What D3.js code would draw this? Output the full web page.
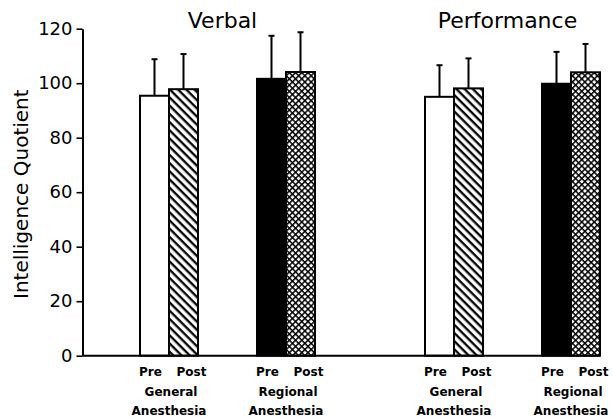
<!DOCTYPE html>
<html>
<head>
<meta charset="utf-8">
<script src="https://cdn.jsdelivr.net/npm/d3@7"></script>
<style>
  body { margin: 0; background: #fff; }
  svg { display: block; }
</style>
</head>
<body>
<div id="chart"></div>
<script>
const panels = ['Verbal', 'Performance'];
const groups = ['General', 'Regional'];
const phases = ['Pre', 'Post'];
const groupSub = 'Anesthesia';

// means, then SD
const verbalMean = [95.4, 97.8, 101.6, 104.1];
const verbalSD = [13.4, 12.9, 15.8, 14.6];
const perfMean = [95.0, 98.1, 99.8, 104.0];
const perfSD = [11.6, 11.0, 11.7, 10.4];

const yTicks = [0, 20, 40, 60, 80, 100, 120];

const W = 612, H = 419;
const margin = { top: 28.7, left: 82.5 },
  plotH = 327;

const svg = d3.select('#chart')
  .append('svg')
  .attr('width', W)
  .attr('height', H);

const defs = svg.append('defs');

// diagonal hatch for post general
const hatch = defs.append('pattern')
  .attr('id', 'hatch')
  .attr('patternUnits', 'userSpaceOnUse')
  .attr('width', 6).attr('height', 5.8)
  .attr('patternTransform', 'rotate(45)');
hatch.append('rect').attr('width', 6).attr('height', 5.8).attr('fill', '#fff');
hatch.append('line')
  .attr('x1', 0).attr('x2', 6).attr('y1', 1.2).attr('y2', 1.2)
  .attr('stroke', '#000').attr('stroke-width', 2.3);

// crosshatch for post regional
const cross = defs.append('pattern')
  .attr('id', 'cross')
  .attr('patternUnits', 'userSpaceOnUse')
  .attr('width', 4.4).attr('height', 4.4)
  .attr('patternTransform', 'rotate(45)');
cross.append('rect').attr('width', 4.4).attr('height', 4.4).attr('fill', '#000');
cross.append('rect').attr('x', 1.5).attr('y', 1.5).attr('width', 2.9).attr('height', 2.9).attr('fill', '#fff');

const fills = {
  'General-Pre': '#fff',
  'General-Post': 'url(#hatch)',
  'Regional-Pre': '#000',
  'Regional-Post': 'url(#cross)'
};

const y = d3.scaleLinear()
  .domain([0, 120])
  .range([margin.top + plotH, margin.top]);

const xPanel = d3.scalePoint()
  .domain(panels)
  .range([227.5, 512.5]);

const xGroup = d3.scaleBand()
  .domain(groups)
  .range([-117, 117]);

const xPhase = d3.scaleBand()
  .domain(phases)
  .range([-29, 29]);

const rows = [];
panels.forEach((p, pi) => {
  const means = pi === 0 ? verbalMean : perfMean;
  const sds = pi === 0 ? verbalSD : perfSD;
  groups.forEach((g, gi) => {
    phases.forEach((ph, hi) => {
      const k = gi * 2 + hi;
      rows.push({ panel: p, group: g, phase: ph, mean: means[k], sd: sds[k] });
    });
  });
});

const barX = d => xPanel(d.panel) + xGroup(d.group) + xGroup.bandwidth() / 2 + xPhase(d.phase);

// error bars (upper only) behind bars
const err = svg.append('g');
err.selectAll('line.v')
  .data(rows)
  .join('line')
  .attr('class', 'v')
  .attr('x1', d => barX(d) + xPhase.bandwidth() / 2)
  .attr('x2', d => barX(d) + xPhase.bandwidth() / 2)
  .attr('y1', d => y(d.mean))
  .attr('y2', d => y(d.mean + d.sd))
  .attr('stroke', '#000')
  .attr('stroke-width', 2);
err.selectAll('line.cap')
  .data(rows)
  .join('line')
  .attr('class', 'cap')
  .attr('x1', d => barX(d) + xPhase.bandwidth() / 2 - 3)
  .attr('x2', d => barX(d) + xPhase.bandwidth() / 2 + 3)
  .attr('y1', d => y(d.mean + d.sd))
  .attr('y2', d => y(d.mean + d.sd))
  .attr('stroke', '#000')
  .attr('stroke-width', 2);

svg.append('g')
  .selectAll('rect')
  .data(rows)
  .join('rect')
  .attr('x', d => barX(d))
  .attr('y', d => y(d.mean))
  .attr('width', xPhase.bandwidth())
  .attr('height', d => y(0) - y(d.mean))
  .attr('fill', d => fills[d.group + '-' + d.phase])
  .attr('stroke', '#000')
  .attr('stroke-width', 2);

// y axis
const yAxis = svg.append('g')
  .attr('transform', 'translate(' + margin.left + ',0)')
  .call(d3.axisLeft(y).tickValues(yTicks).tickSize(6).tickSizeOuter(0).tickPadding(4));
yAxis.select('.domain').attr('stroke-width', 2);
yAxis.selectAll('.tick line').attr('stroke-width', 1.6);
yAxis.selectAll('.tick text')
  .attr('font-family', 'DejaVu Sans, sans-serif')
  .attr('font-size', 18)
  .attr('fill', '#000');

// baseline
svg.append('line')
  .attr('x1', margin.left)
  .attr('x2', xPanel('Performance') + xGroup('Regional') + xGroup.bandwidth() / 2 + 29)
  .attr('y1', y(0))
  .attr('y2', y(0))
  .attr('stroke', '#000')
  .attr('stroke-width', 2);

svg.append('text')
  .attr('transform', 'translate(28,' + (y(60) + 2) + ') rotate(-90)')
  .attr('text-anchor', 'middle')
  .attr('font-family', 'DejaVu Sans, sans-serif')
  .attr('font-size', 20)
  .text('Intelligence Quotient');

// panel titles
svg.selectAll('text.title')
  .data(panels)
  .join('text')
  .attr('class', 'title')
  .attr('x', d => xPanel(d) - 5)
  .attr('y', 28)
  .attr('text-anchor', 'middle')
  .attr('font-family', 'DejaVu Sans, sans-serif')
  .attr('font-size', 22)
  .text(d => d);

// Pre / Post labels
svg.selectAll('text.phase')
  .data(rows)
  .join('text')
  .attr('class', 'phase')
  .attr('x', d => barX(d) + xPhase.bandwidth() / 2 + (d.phase === 'Pre' ? -4 : 8))
  .attr('y', 376)
  .attr('text-anchor', 'middle')
  .attr('font-family', 'DejaVu Sans, sans-serif')
  .attr('font-weight', 'bold')
  .attr('font-size', 12)
  .text(d => d.phase);

// group labels
const groupRows = [];
panels.forEach(p => groups.forEach(g => groupRows.push({ panel: p, group: g })));
const gl = svg.selectAll('text.group')
  .data(groupRows)
  .join('text')
  .attr('class', 'group')
  .attr('text-anchor', 'middle')
  .attr('font-family', 'DejaVu Sans, sans-serif')
  .attr('font-weight', 'bold')
  .attr('font-size', 12);
gl.append('tspan')
  .attr('x', d => xPanel(d.panel) + xGroup(d.group) + xGroup.bandwidth() / 2 + 2)
  .attr('y', 396)
  .text(d => d.group);
gl.append('tspan')
  .attr('x', d => xPanel(d.panel) + xGroup(d.group) + xGroup.bandwidth() / 2)
  .attr('y', 415)
  .text(groupSub);
</script>
</body>
</html>
